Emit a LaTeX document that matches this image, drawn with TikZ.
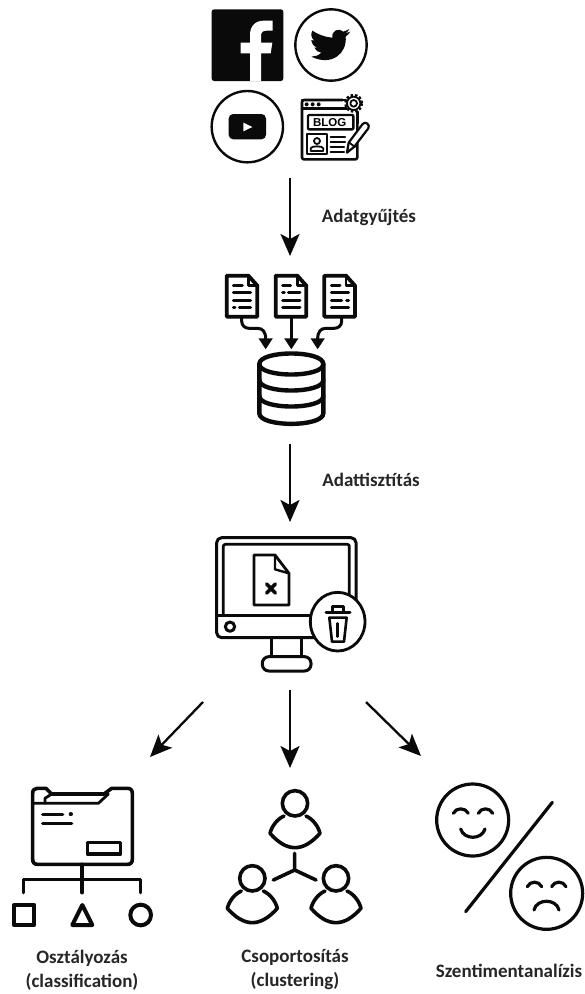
\documentclass[tikz,border=0pt]{standalone}
\usepackage{fontspec}
\setmainfont{Carlito}
\setsansfont{Liberation Sans}
\usetikzlibrary{arrows.meta}
\definecolor{ink}{HTML}{0A0A0A}
\tikzset{
  x=1pt,y=-1pt,
  ic/.style={draw=ink,line width=#1pt,line cap=round,line join=round},
  ic/.default=3,
  flow/.style={draw=ink,line width=2.3pt,-{Stealth[length=22pt,width=19pt,inset=5pt]}},
  lbl/.style={font=\bfseries\fontsize{19}{24}\selectfont,text=black!85,inner sep=0pt,align=center},
  zoomed/.style={scale=1/3},
  docarrow/.style={draw=ink,line width=3pt,-{Triangle[length=11pt,width=13.5pt]}},
}
\newcommand{\docicon}[1]{%
  \begin{scope}[xshift=#1pt]
    \draw[ic=3.8,fill=white] (80,47) -- (145,47) -- (172,77) -- (172,170) -- (80,170) -- cycle;
    \draw[ic=2.4] (145,47) -- (145,77) -- (172,77);
  \end{scope}}
\begin{document}
\begin{tikzpicture}
\useasboundingbox (0,0) rectangle (585,994);
\fill[white] (0,0) rectangle (585,994);

% ---------- social sources ----------
\begin{scope}[shift={(190,0)},zoomed]
  \fill[ink,rounded corners=2.5pt] (65,28) rectangle (280,243);
  \fill[white] (180,243) -- (180,160) -- (152,160) -- (152,128) -- (180,128) -- (180,105)
     .. controls (180,78) and (196,62) .. (222,62) -- (248,62) -- (248,92) -- (230,92)
     .. controls (218,92) and (213,97) .. (213,108) -- (213,128) -- (247,128) -- (242,160) -- (213,160) -- (213,243) -- cycle;
  \draw[ic=2.4] (423,135) circle (107);
  \fill[ink] (481,95) -- (466,100) .. controls (472,96) and (476,92) .. (478,87) .. controls (472,91) and (466,93) .. (460,95)
     .. controls (448,83) and (424,90) .. (427,113)
     .. controls (405,112) and (382,102) .. (367,92)
     .. controls (361,103) and (364,114) .. (373,122) -- (364,120)
     .. controls (365,131) and (371,139) .. (382,143) -- (373,143)
     .. controls (377,152) and (385,157) .. (394,158)
     .. controls (386,166) and (375,170) .. (364,170)
     .. controls (425,200) and (472,160) .. (467,110)
     .. controls (472,106) and (477,101) .. (481,95) -- cycle;
  \draw[ic=2.4] (172,380) circle (107);
  \fill[ink,rounded corners=4.5pt] (116,342) rectangle (228,418);
  \fill[white] (160,368) -- (187,381) -- (160,394) -- cycle;
  % blog window
  \draw[ic=2.6,fill=white,rounded corners=2pt] (336,300) rectangle (502,478);
  \foreach \dx in {350,368,386} \fill[ink] (\dx,313) circle (6);
  \fill[white] (460,278) rectangle (525,345);
  \draw[ic=2.4] (336,325) -- (470,325);
  \draw[ic=2.4] (336,300) -- (468,300);
  \draw[ink,line width=3pt,dash pattern=on 2.4pt off 1.9pt] (491,310) circle (24);
  \draw[ic=1.8,fill=white] (491,310) circle (20);
  \draw[ic=1.8] (491,310) circle (10);
  \draw[ic=2.4] (502,335) -- (502,370);
  \draw[ic=2.4,rounded corners=1pt] (354,345) rectangle (490,388);
  \node[inner sep=0pt,font=\fontsize{11.5}{11.5}\selectfont\bfseries\sffamily] (blogtext) at (419,367) {BLOG};
  \draw[ic=2.2] (352,402) rectangle (410,462);
  \draw[ic=1.8] (381,423) circle (9);
  \draw[ic=1.8] (362,453) -- (362,445) .. controls (362,437) and (400,437) .. (400,445) -- (400,453) -- cycle;
  \foreach \ly/\lx in {412/465,427/465,442/462,456/462} \draw[ic=2.2] (422,\ly) -- (\lx,\ly);
  \draw[ic=2.2,fill=white] (471,458) -- (476,428) -- (518,372) .. controls (525,362) and (542,374) .. (535,385) -- (493,440) -- cycle;
  \draw[ic=1.8] (478,428) -- (495,441);
\end{scope}
\coordinate (sourcesout) at (290,178);
\coordinate (storein) at (290,256);

% ---------- documents into database ----------
\begin{scope}[shift={(200,260)},zoomed]
  \docicon{0}\docicon{147}\docicon{293}
  \draw[ic=3] (100,75) -- (127,75);
  \draw[ic=3] (100,98) -- (152,98);
  \draw[ic=3] (100,120) -- (152,120);
  \draw[ic=3] (100,143) -- (105,143);
  \draw[ic=3] (118,143) -- (152,143);
  \draw[ic=3] (248,75) -- (272,75);
  \draw[ic=3] (248,97) -- (253,97);
  \draw[ic=3] (265,97) -- (300,97);
  \draw[ic=3] (248,120) -- (300,120);
  \draw[ic=3] (248,143) -- (300,143);
  \draw[ic=3] (394,75) -- (420,75);
  \draw[ic=3] (394,98) -- (446,98);
  \draw[ic=3] (394,120) -- (425,120);
  \draw[ic=3] (440,120) -- (446,120);
  \draw[ic=3] (394,143) -- (446,143);
  % database
  \draw[ic=4.4] (178,312) .. controls (178,270) and (370,270) .. (370,312)
     .. controls (370,354) and (178,354) .. (178,312) -- cycle;
  \draw[ic=4.4] (178,312) -- (178,460) .. controls (178,502) and (370,502) .. (370,460) -- (370,312);
  \draw[ic=4.4] (178,360) .. controls (178,402) and (370,402) .. (370,360);
  \draw[ic=4.4] (178,408) .. controls (178,450) and (370,450) .. (370,408);
  \coordinate (d1) at (125,170);
  \coordinate (d2) at (274,170);
  \coordinate (d3) at (425,170);
  \coordinate (b1) at (197,268);
  \coordinate (b2) at (274,268);
  \coordinate (b3) at (353,268);
  \draw[docarrow] (d1) -- (125,183) .. controls (125,197) and (135,205) .. (148,205) -- (172,205) .. controls (188,205) and (197,215) .. (b1);
  \draw[docarrow] (d2) -- (b2);
  \draw[docarrow] (d3) -- (425,183) .. controls (425,197) and (415,205) .. (402,205) -- (378,205) .. controls (362,205) and (353,215) .. (b3);
\end{scope}
\coordinate (storeout) at (290,444);
\coordinate (screenin) at (290,522);

% ---------- monitor ----------
\begin{scope}[shift={(200,525)},zoomed]
  \draw[ic=3,rounded corners=5pt] (50,38) rectangle (468,338);
  \draw[ic=2.8,rounded corners=2pt] (70,272) -- (70,58) -- (448,58) -- (448,272);
  \draw[ic=3] (50,272) -- (468,272);
  \draw[ic=3] (90,305) circle (14);
  \draw[ic=3] (213,338) -- (213,395);
  \draw[ic=3] (305,338) -- (305,395);
  \draw[ic=3,rounded corners=6.5pt] (187,395) rectangle (333,438);
  \draw[ic=2.8] (162,90) -- (225,90) -- (267,145) -- (267,240) -- (162,240) -- cycle;
  \draw[ic=2.4] (225,90) -- (225,133) -- (267,145);
  \draw[ic=3.6] (200,177) -- (226,204);
  \draw[ic=3.6] (226,177) -- (200,204);
  \draw[ic=2.8,fill=white] (413,290) ellipse (82 and 88);
  \draw[ic=3] (378,262) -- (450,262);
  \draw[ic=2.4] (398,262) -- (398,245) -- (430,245) -- (430,262);
  \draw[ic=2.6] (388,278) -- (440,278) -- (432,350) -- (396,350) -- cycle;
  \draw[ic=2.4] (413,295) -- (413,335);
\end{scope}

% ---------- flow arrows ----------
\draw[flow] (sourcesout) -- (storein);
\draw[flow] (storeout) -- (screenin);
\coordinate (sa) at (203,702);
\coordinate (sb) at (290,690);
\coordinate (sc) at (366,702);
\coordinate (ta) at (150,757);
\coordinate (tb) at (290,768);
\coordinate (tc) at (421,756);
\draw[flow] (sa) -- (ta);
\draw[flow] (sb) -- (tb);
\draw[flow] (sc) -- (tc);

% ---------- classification ----------
\begin{scope}[shift={(0,770)},zoomed]
  \draw[ic=3.6] (98,70) .. controls (98,60) and (103,55) .. (112,55) -- (138,55) -- (155,72) -- (312,72) -- (335,55) -- (382,55)
     .. controls (392,55) and (397,60) .. (397,70) -- (397,268) .. controls (397,278) and (392,283) .. (382,283)
     -- (113,283) .. controls (103,283) and (98,278) .. (98,268) -- cycle;
  \draw[ic=2.8] (100,100) -- (295,100) -- (325,72);
  \draw[ic=2.8] (135,100) -- (135,85) -- (155,72);
  \draw[ic=3.4] (128,133) -- (188,133);
  \draw[ic=4] (212,133) -- (213,133);
  \draw[ic=3.4] (128,160) -- (215,160);
  \draw[ic=3.4] (262,218) rectangle (362,252);
  \draw[ic=3.6] (246,283) -- (246,368);
  \draw[ic=3.6] (70,368) -- (70,328) -- (422,328) -- (422,368);
  \draw[ic=4] (42,405) rectangle (103,465);
  \draw[ic=4] (247,405) -- (217,465) -- (277,465) -- cycle;
  \draw[ic=4] (422,435) circle (31);
\end{scope}
\node[lbl] (classif) at (82,970) {Osztályozás\\(classification)};

% ---------- clustering ----------
\begin{scope}[shift={(210,770)},zoomed]
  \foreach \px/\py in {255/100,127/325,378/325}{
    \begin{scope}[shift={(\px,\py)}]
      \draw[ic=3.6] (0,0) circle (38);
      \draw[ic=3.6] (-33,38) .. controls (-55,48) and (-70,70) .. (-75,90)
         .. controls (-50,118) and (-25,133) .. (0,133)
         .. controls (25,133) and (50,118) .. (75,90)
         .. controls (70,70) and (55,48) .. (33,38);
    \end{scope}
  }
  \coordinate (hub) at (254,300);
  \draw[ic=3.6] (254,250) -- (hub);
  \draw[ic=3.6] (190,330) -- (hub) -- (318,330);
\end{scope}
\node[lbl] (cluster) at (295,970) {Csoportosítás\\(clustering)};

% ---------- sentiment ----------
\begin{scope}[shift={(420,770)},zoomed]
  \draw[ic=3.2] (158,150) circle (108);
  \draw[ic=3.2] (380,370) circle (108);
  \draw[ic=3.2] (397,97) -- (137,425);
  \draw[ic=3.2] (100,130) .. controls (108,112) and (136,112) .. (145,130);
  \draw[ic=3.2] (175,130) .. controls (183,112) and (210,112) .. (218,130);
  \draw[ic=3.2] (122,177) .. controls (132,210) and (185,210) .. (195,177);
  \draw[ic=3.2] (322,350) .. controls (330,332) and (357,332) .. (365,350);
  \draw[ic=3.2] (395,350) .. controls (403,332) and (430,332) .. (438,350);
  \draw[ic=3.2] (342,420) .. controls (350,385) and (409,385) .. (417,420);
\end{scope}
\node[lbl] (senti) at (509,971) {Szentimentanalízis};

% ---------- step labels ----------
\node[lbl] (gyujt) at (369,217) {Adatgyűjtés};
\node[lbl] (tiszt) at (371,480) {Adattisztítás};
\end{tikzpicture}
\end{document}
